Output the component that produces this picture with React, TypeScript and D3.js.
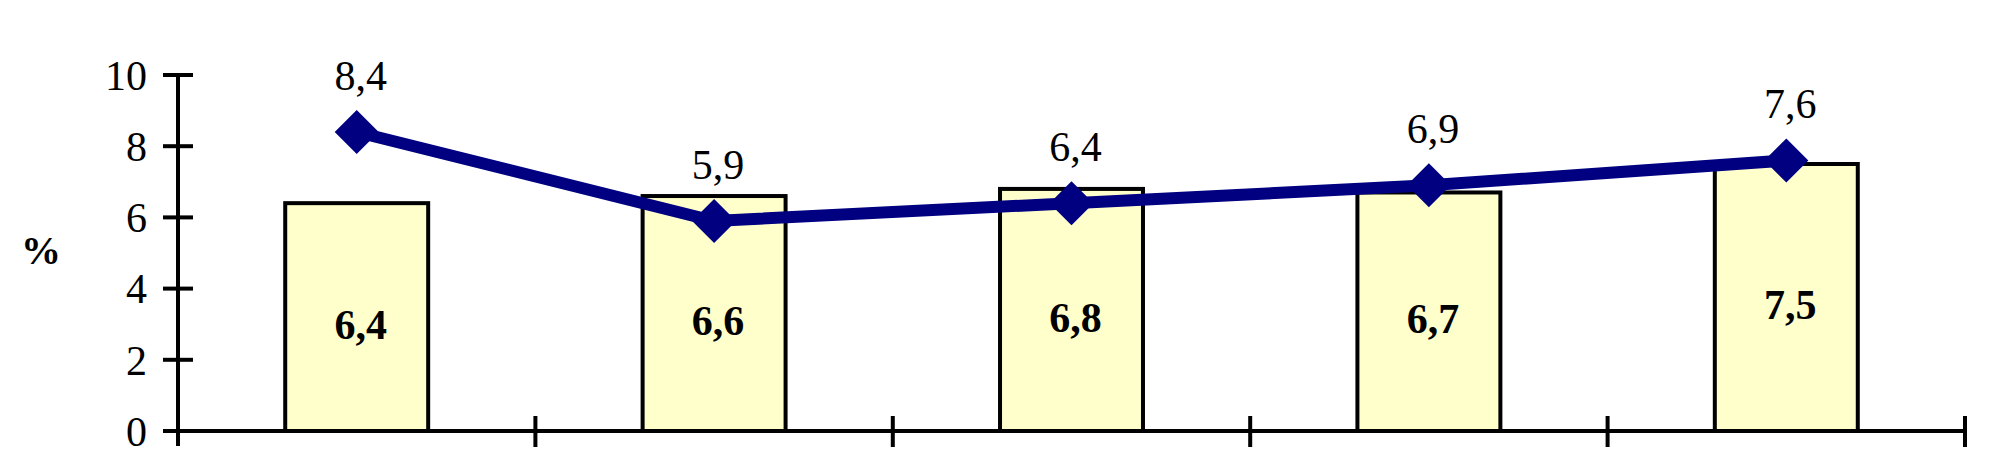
import React from "react";
import * as d3 from "d3";

const categories = ["1", "2", "3", "4", "5"];
const barValues = [6.4, 6.6, 6.8, 6.7, 7.5];
const lineValues = [8.4, 5.9, 6.4, 6.9, 7.6];
const yTicks = [0, 2, 4, 6, 8, 10];
const yLabel = "%";

const W = 1993;
const H = 462;
const left = 178;
const right = 1965;
const top = 75;
const bottom = 431;
const FONT = "'Liberation Serif', 'Times New Roman', serif";
const FS = 42;
const fmt = (v: number) => v.toFixed(1).replace(".", ",");

export default function App() {
  const x = d3.scaleBand<string>().domain(categories).range([left, right]).paddingInner(0).paddingOuter(0);
  const y = d3.scaleLinear().domain([0, 10]).range([bottom, top]);
  const bw = x.bandwidth() * 0.4;
  const cx = (c: string) => (x(c) as number) + x.bandwidth() / 2;
  const line = d3
    .line<number>()
    .x((_, i) => cx(categories[i]))
    .y((d) => y(d));
  const boundaries = categories.map((c) => (x(c) as number) + x.bandwidth());
  const r = 22;

  return (
    <svg width={W} height={H} style={{ position: "absolute", left: 0, top: 0, background: "#ffffff" }}>
      {barValues.map((v, i) => (
        <rect
          key={"b" + i}
          x={cx(categories[i]) - bw / 2}
          y={y(v)}
          width={bw}
          height={y(0) - y(v)}
          fill="#FFFFCC"
          stroke="#000"
          strokeWidth={4}
        />
      ))}
      <line x1={left} x2={left} y1={y(10)} y2={bottom + 15} stroke="#000" strokeWidth={4} />
      {yTicks.map((t) => (
        <g key={"t" + t}>
          <line x1={left - 15} x2={left + 15} y1={y(t)} y2={y(t)} stroke="#000" strokeWidth={4} />
          <text x={147} y={y(t)} dy="0.35em" textAnchor="end" fontFamily={FONT} fontSize={FS} fill="#000">
            {t}
          </text>
        </g>
      ))}
      <line x1={left} x2={right} y1={bottom} y2={bottom} stroke="#000" strokeWidth={4} />
      {boundaries.map((bx, i) => (
        <line key={"xt" + i} x1={bx} x2={bx} y1={bottom - 15} y2={bottom + 16} stroke="#000" strokeWidth={4} />
      ))}
      <text x={41} y={250} dy="0.35em" textAnchor="middle" fontFamily={FONT} fontSize={40} fontWeight="bold" fill="#000">
        {yLabel}
      </text>
      {barValues.map((v, i) => (
        <text
          key={"bl" + i}
          x={cx(categories[i]) + 4}
          y={(y(v) + y(0)) / 2 + 7}
          dy="0.35em"
          textAnchor="middle"
          fontFamily={FONT}
          fontSize={FS}
          fontWeight="bold"
          fill="#000"
        >
          {fmt(v)}
        </text>
      ))}
      <path d={line(lineValues) as string} fill="none" stroke="#000080" strokeWidth={12} strokeLinejoin="miter" />
      {lineValues.map((v, i) => {
        const px = cx(categories[i]);
        const py = y(v);
        return (
          <path
            key={"m" + i}
            d={`M${px},${py - r}L${px + r},${py}L${px},${py + r}L${px - r},${py}Z`}
            fill="#000080"
          />
        );
      })}
      {lineValues.map((v, i) => (
        <text
          key={"ll" + i}
          x={cx(categories[i]) + 4}
          y={y(v) - 42}
          textAnchor="middle"
          fontFamily={FONT}
          fontSize={FS}
          fill="#000"
        >
          {fmt(v)}
        </text>
      ))}
    </svg>
  );
}
